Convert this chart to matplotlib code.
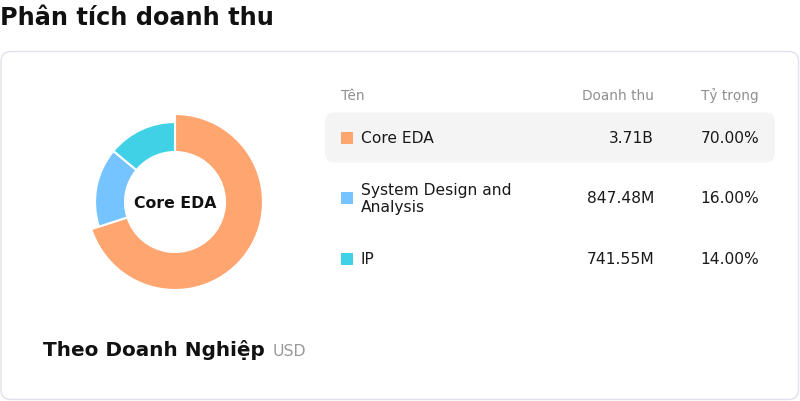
import matplotlib
matplotlib.use('Agg')
import matplotlib.pyplot as plt
from matplotlib.patches import FancyBboxPatch, Rectangle

# data
segments = ['Core EDA', 'System Design and\nAnalysis', 'IP']
revenue = [3.71e9, 847.48e6, 741.55e6]
revenue_labels = ['3.71B', '847.48M', '741.55M']
share_labels = ['70.00%', '16.00%', '14.00%']
colors = ['#FFA570', '#76C4FF', '#41D1E6']

W, H = 800, 402
fig = plt.figure(figsize=(W / 100, H / 100), dpi=100)

# background axes in pixel coordinates (y goes down)
bg = fig.add_axes([0, 0, 1, 1])
bg.set_xlim(0, W)
bg.set_ylim(H, 0)
bg.axis('off')

bg.text(0, 25, 'Phân tích doanh thu', fontsize=17.3, fontweight='bold',
        color='#111111', va='baseline', ha='left')

card = FancyBboxPatch((1, 52.5), 797.5, 348, boxstyle='round,pad=0,rounding_size=10',
                      facecolor='white', edgecolor='#e2e0ea', linewidth=1)
bg.add_patch(card)

# highlighted first row
hl = FancyBboxPatch((325, 113.5), 450, 50, boxstyle='round,pad=0,rounding_size=10',
                    facecolor='#f4f4f4', edgecolor='none')
bg.add_patch(hl)

# table header
header_color = '#8f8f8f'
bg.text(341, 100, 'Tên', fontsize=9.8, color=header_color, va='baseline', ha='left')
bg.text(654, 100, 'Doanh thu', fontsize=9.8, color=header_color, va='baseline', ha='right')
bg.text(759, 100, 'Tỷ trọng', fontsize=9.8, color=header_color, va='baseline', ha='right')

row_centers = [139, 199, 260]
text_color = '#1a1a1a'
for i in range(len(segments)):
    yc = row_centers[i]
    bg.add_patch(Rectangle((341, yc - 6), 12, 12, facecolor=colors[i], edgecolor='none'))
    bg.text(361, yc, segments[i], fontsize=11.2, color=text_color, va='center', ha='left',
            linespacing=1.15)
    bg.text(654, yc, revenue_labels[i], fontsize=11.2, color=text_color, va='center', ha='right')
    bg.text(759, yc, share_labels[i], fontsize=11.2, color=text_color, va='center', ha='right')

# footer label
bg.text(43, 356, 'Theo Doanh Nghiệp', fontsize=14.4, fontweight='bold', color='#111111',
        va='baseline', ha='left')
bg.text(273, 356, 'USD', fontsize=11.3, color='#999999', va='baseline', ha='left')

# donut (first slice is emphasised: larger outer radius)
cx, cy, r = 175, 203, 88
ax = fig.add_axes([(cx - r) / W, (H - cy - r) / H, 2 * r / W, 2 * r / H])
wedges, _ = ax.pie(revenue, colors=colors, startangle=90, counterclock=False,
                   wedgeprops=dict(width=38 / 88, edgecolor='white', linewidth=1.5))
for w in wedges[1:]:
    w.set_radius(80 / 88)
    w.set_width(30 / 88)
ax.set_xlim(-1, 1)
ax.set_ylim(-1, 1)
ax.set_aspect('equal')
ax.text(0, 0, 'Core EDA', fontsize=11.3, fontweight='bold', color='#111111',
        ha='center', va='center')

fig.savefig('out.png', dpi=100)
